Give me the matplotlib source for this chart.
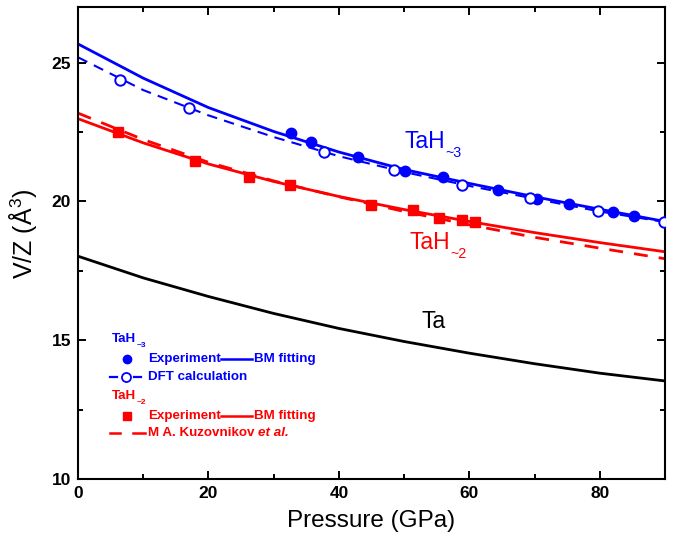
import matplotlib
matplotlib.use("Agg")
import matplotlib.pyplot as plt
from matplotlib.ticker import MultipleLocator

plt.rcParams['font.family'] = ['Liberation Sans', 'DejaVu Sans']
plt.rcParams['mathtext.fontset'] = 'custom'
plt.rcParams['mathtext.rm'] = 'Liberation Sans'
plt.rcParams['mathtext.it'] = 'Liberation Sans:italic'
plt.rcParams['mathtext.bf'] = 'Liberation Sans:bold'

BLUE = '#0000ff'
RED = '#ff0000'

# fitted / reference curves, every 10 GPa
p_grid = [0, 10, 20, 30, 40, 50, 60, 70, 80, 90]
tah3_bm = [25.67, 24.44, 23.38, 22.52, 21.78, 21.15, 20.65, 20.17, 19.72, 19.28]
tah3_dft_line = [25.19, 24.01, 23.10, 22.32, 21.63, 21.06, 20.56, 20.10, 19.64, 19.26]
tah2_bm = [22.98, 22.11, 21.35, 20.72, 20.18, 19.71, 19.28, 18.88, 18.52, 18.19]
tah2_kuz = [23.18, 22.23, 21.41, 20.74, 20.17, 19.64, 19.16, 18.71, 18.32, 17.94]
ta_v = [18.03, 17.25, 16.58, 15.97, 15.43, 14.96, 14.54, 14.16, 13.82, 13.54]

# TaH~3 experiment
tah3_exp_p = [32.6, 35.7, 42.9, 50.2, 56.0, 64.4, 70.3, 75.3, 82.0, 85.3]
tah3_exp_v = [22.46, 22.14, 21.60, 21.09, 20.88, 20.42, 20.10, 19.92, 19.62, 19.47]

# TaH~3 DFT
tah3_dft_p = [6.4, 17.0, 37.7, 48.4, 58.8, 69.3, 79.7, 89.8]
tah3_dft_v = [24.39, 23.36, 21.78, 21.14, 20.61, 20.14, 19.65, 19.26]

# TaH~2 experiment
tah2_exp_p = [6.1, 18.0, 26.2, 32.5, 44.9, 51.3, 55.4, 58.8, 60.8]
tah2_exp_v = [22.49, 21.45, 20.88, 20.61, 19.89, 19.68, 19.42, 19.32, 19.26]

fig = plt.figure(figsize=(6.78, 5.51), dpi=100)
ax = fig.add_axes([78 / 678, 1 - 479.3 / 551, 587 / 678, 472.3 / 551])

ax.plot(p_grid, ta_v, color='black', lw=2.0)
ax.plot(p_grid, tah3_bm, color=BLUE, lw=2.0)
ax.plot(p_grid, tah3_dft_line, color=BLUE, lw=1.5, ls=(0, (5, 3.5)))
ax.plot(p_grid, tah2_bm, color=RED, lw=2.0)
ax.plot(p_grid, tah2_kuz, color=RED, lw=2.0, ls=(0, (5, 4)))

ax.plot(tah3_exp_p, tah3_exp_v, 'o', color=BLUE, ms=7.5, zorder=5)
ax.plot(tah3_dft_p, tah3_dft_v, 'o', mfc='white', mec=BLUE, mew=1.4, ms=7.5, zorder=5)
ax.plot(tah2_exp_p, tah2_exp_v, 's', color=RED, ms=7, zorder=5)


def sub_label(x, y, main, sub, color, fs, transform, weight='normal'):
    # main text plus a lowered smaller "~n" subscript right after it
    t = ax.text(x, y, main, color=color, fontsize=fs, fontweight=weight,
                transform=transform)
    ax.annotate(sub, xy=(1.0, 0.0), xycoords=t, xytext=(0.5, 0),
                textcoords='offset points', color=color, fontsize=fs * 0.62,
                fontweight=weight, ha='left', va='center')
    return t


sub_label(50.0, 21.94, 'TaH', '~3', BLUE, 16.5, ax.transData)
sub_label(50.8, 18.30, 'TaH', '~2', RED, 16.5, ax.transData)
ax.text(52.6, 15.43, 'Ta', color='black', fontsize=16.5)

ax.set_xlim(0, 90)
ax.set_ylim(10, 27)
ax.xaxis.set_major_locator(MultipleLocator(20))
ax.xaxis.set_minor_locator(MultipleLocator(10))
ax.yaxis.set_major_locator(MultipleLocator(5))
ax.yaxis.set_minor_locator(MultipleLocator(2.5))
ax.tick_params(which='both', direction='in', top=True, right=True, width=1.4)
ax.tick_params(which='major', length=6, labelsize=12.5, pad=5)
ax.tick_params(which='minor', length=3.8)
for lab in ax.get_xticklabels() + ax.get_yticklabels():
    lab.set_fontweight('bold')
for s in ax.spines.values():
    s.set_linewidth(1.5)

ax.set_xlabel('Pressure (GPa)', fontsize=17.5, labelpad=6)
ax.set_ylabel('V/Z (Å$^3$)', fontsize=18)
ax.yaxis.set_label_coords(-0.066, 0.52)

# hand-built legend, positions in axes fractions
def fx(px):
    return (px - 78) / 587

def fy(py):
    return (479.3 - py) / 472.3

tr = ax.transAxes
lfs = 9.6
sub_label(fx(111.7), fy(342.3), 'TaH', '~3', BLUE, lfs, tr, 'bold')
ax.plot([fx(127.3)], [fy(359)], 'o', color=BLUE, ms=6, transform=tr, clip_on=False)
ax.text(fx(147.7), fy(359), 'Experiment', color=BLUE, fontsize=lfs, fontweight='bold',
        va='center', transform=tr)
ax.plot([fx(220.7), fx(251.7)], [fy(359), fy(359)], color=BLUE, lw=1.8, transform=tr)
ax.text(fx(254), fy(359), 'BM fitting', color=BLUE, fontsize=lfs, fontweight='bold',
        va='center', transform=tr)
ax.plot([fx(110), fx(117)], [fy(377.3), fy(377.3)], color=BLUE, lw=1.6, transform=tr)
ax.plot([fx(134), fx(141)], [fy(377.3), fy(377.3)], color=BLUE, lw=1.6, transform=tr)
ax.plot([fx(126)], [fy(377.3)], 'o', mfc='white', mec=BLUE, mew=1.3, ms=6.5, transform=tr)
ax.text(fx(147.7), fy(377.3), 'DFT calculation', color=BLUE, fontsize=lfs,
        fontweight='bold', va='center', transform=tr)

sub_label(fx(111.7), fy(399), 'TaH', '~2', RED, lfs, tr, 'bold')
ax.plot([fx(127.3)], [fy(415.7)], 's', color=RED, ms=6, transform=tr)
ax.text(fx(147.7), fy(415.7), 'Experiment', color=RED, fontsize=lfs, fontweight='bold',
        va='center', transform=tr)
ax.plot([fx(220.7), fx(251.7)], [fy(415.7), fy(415.7)], color=RED, lw=1.8, transform=tr)
ax.text(fx(254), fy(415.7), 'BM fitting', color=RED, fontsize=lfs, fontweight='bold',
        va='center', transform=tr)
ax.plot([fx(110), fx(120)], [fy(433.3), fy(433.3)], color=RED, lw=1.8, transform=tr)
ax.plot([fx(133), fx(145)], [fy(433.3), fy(433.3)], color=RED, lw=1.8, transform=tr)
kuz = ax.text(fx(147.7), fy(433.3), 'M A. Kuzovnikov', color=RED, fontsize=lfs,
              fontweight='bold', va='center', transform=tr)
ax.annotate('et al.', xy=(1.0, 0.5), xycoords=kuz, xytext=(3, 0),
            textcoords='offset points', color=RED, fontsize=lfs, fontweight='bold',
            style='italic', ha='left', va='center')

fig.savefig('out.png', dpi=100)
